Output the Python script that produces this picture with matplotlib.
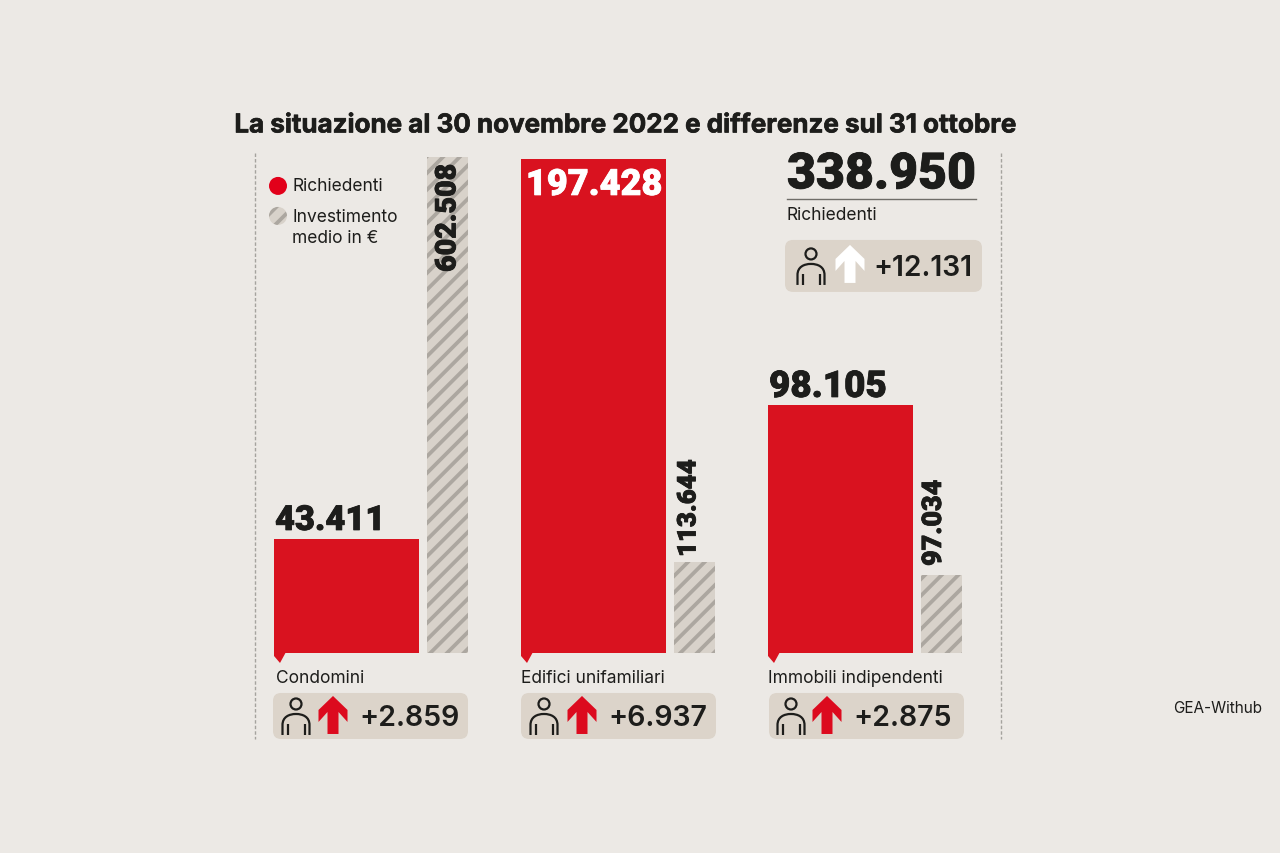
import matplotlib
matplotlib.use("Agg")
import matplotlib.pyplot as plt
import matplotlib.patheffects as pe
from matplotlib.patches import Circle, FancyBboxPatch, Polygon, PathPatch
from matplotlib.path import Path

categorie = ["Condomini", "Edifici unifamiliari", "Immobili indipendenti"]
richiedenti_label = ["43.411", "197.428", "98.105"]
investimento_label = ["602.508", "113.644", "97.034"]
variazioni = ["+2.859", "+6.937", "+2.875"]
richiedenti = [45700, 197428, 99000]
investimento = [602508, 111000, 95000]
totale = "338.950"
totale_var = "+12.131"

BG = "#ece9e5"
RED = "#d9121f"
DARK = "#1d1d1b"
PILL = "#dcd4ca"
HATCH_BG = "#d8d2ca"
HATCH_FG = "#aca7a0"
FONT = ["Inter", "DejaVu Sans"]

plt.rcParams["font.family"] = FONT
plt.rcParams["hatch.linewidth"] = 2.7

fig = plt.figure(figsize=(12.8, 8.531), dpi=100, facecolor=BG)


def px_axes(x0, y_top, x1, y_bottom):
    return fig.add_axes([x0 / 1280, 1 - y_bottom / 853, (x1 - x0) / 1280, (y_bottom - y_top) / 853])


# background layer in pixel coordinates
ax = px_axes(0, 0, 1280, 853)
ax.set_xlim(0, 1280)
ax.set_ylim(853, 0)
ax.axis("off")

# bars: one unit on x is one group, 247 px wide
bar_ax = px_axes(254, 159, 1001, 653)
bar_ax.set_xlim((254 - 346.5) / 247, (1001 - 346.5) / 247)
bar_ax.set_ylim(0, 197428)
bar_ax.axis("off")
idx = list(range(len(categorie)))
bar_ax.bar(idx, richiedenti, width=144.5 / 247, color=RED, linewidth=0)

inv_ax = bar_ax.twinx()
inv_ax.set_ylim(0, 602508 * 494 / 496)
inv_ax.axis("off")
inv_ax.bar([i + 101 / 247 for i in idx], investimento, width=41 / 247, color=HATCH_BG,
           edgecolor=HATCH_FG, hatch="//", linewidth=0, clip_on=False)

# top layer for the value labels
top_ax = px_axes(0, 0, 1280, 853)
top_ax.set_xlim(0, 1280)
top_ax.set_ylim(853, 0)
top_ax.axis("off")


def person(cx, cy, color=DARK):
    ax.add_patch(Circle((cx, cy - 12), 5.5, fc="none", ec=color, lw=1.6))
    body = Path([(cx - 13.5, cy + 19), (cx - 13.5, cy + 9), (cx - 13.5, cy + 1), (cx - 7, cy - 2), (cx, cy - 2),
                 (cx + 7, cy - 2), (cx + 13.5, cy + 1), (cx + 13.5, cy + 9), (cx + 13.5, cy + 19)],
                [Path.MOVETO, Path.LINETO, Path.CURVE4, Path.CURVE4, Path.CURVE4,
                 Path.CURVE4, Path.CURVE4, Path.CURVE4, Path.LINETO])
    ax.add_patch(PathPatch(body, fc="none", ec=color, lw=1.6))
    ax.plot([cx - 8.5, cx - 8.5], [cy + 8, cy + 19], color=color, lw=1.6, solid_capstyle="butt")
    ax.plot([cx + 8.5, cx + 8.5], [cy + 8, cy + 19], color=color, lw=1.6, solid_capstyle="butt")


def arrow(cx, cy, color):
    pts = [(cx, cy - 20), (cx + 14.5, cy - 6), (cx + 14.5, cy + 6), (cx + 5.5, cy - 4), (cx + 5.5, cy + 18),
           (cx - 5.5, cy + 18), (cx - 5.5, cy - 4), (cx - 14.5, cy + 6), (cx - 14.5, cy - 6)]
    ax.add_patch(Polygon(pts, closed=True, fc=color, ec="none"))


def pill(x0, y0, x1, y1):
    ax.add_patch(FancyBboxPatch((x0 + 8, y0 + 8), x1 - x0 - 16, y1 - y0 - 16,
                                boxstyle="round,pad=8,rounding_size=8", fc=PILL, ec="none"))


def heavy(x, y, s, size, color=DARK, rot=0, ha="left", va="center"):
    top_ax.text(x, y, s, fontsize=size, color=color, rotation=rot, ha=ha, va=va,
                family=["Roboto", "DejaVu Sans"], fontweight="black", zorder=10,
                path_effects=[pe.withStroke(linewidth=0.6, foreground=color)])


def light(x, y, s, size=12.5, **kw):
    ax.text(x, y, s, fontsize=size, color=DARK, va="center", fontweight="regular", **kw)


# title
ax.text(625, 126, "La situazione al 30 novembre 2022 e differenze sul 31 ottobre", fontsize=18.7,
        fontweight="bold", color=DARK, ha="center", va="center",
        path_effects=[pe.withStroke(linewidth=0.5, foreground=DARK)])

# dashed side lines
for x in (255, 1001):
    ax.plot([x, x], [153, 739], color="#a5a39e", lw=1, ls=(0, (2.5, 1.5)))

group_x = [274, 521, 768]
label_x = [276, 521, 768]
inv_x = [447.5, 688.5, 933.5]
pill_x = [273, 521, 769]
person_x = [296, 544, 791]
arrow_x = [333, 582, 827]
num_x = [359, 608, 853]
inv_y = [272, 557, 566]
inv_size = [20.6, 18.6, 19.4]
rich_size = [24.8, 26, 26.5]

for i, cat in enumerate(categorie):
    ax.add_patch(Polygon([(group_x[i], 652), (group_x[i] + 12, 652), (group_x[i] + 6, 663), (group_x[i], 656)],
                         closed=True, fc=RED, ec="none"))
    light(label_x[i], 678.5, cat)
    pill(pill_x[i], 693, pill_x[i] + 195, 739)
    person(person_x[i], 716)
    arrow(arrow_x[i], 716, "#dc0a1e")
    ax.text(num_x[i], 718, variazioni[i], fontsize=20.5, fontweight="semibold", color=DARK, va="center")

for i in idx:
    if i == 1:
        heavy(594, 185, richiedenti_label[i], rich_size[i], color="white", ha="center")
    else:
        heavy(group_x[i] + 1, 521 if i == 0 else 387, richiedenti_label[i], rich_size[i])
    heavy(inv_x[i], inv_y[i], investimento_label[i], inv_size[i], rot=90, ha="center", va="bottom")

# legend
ax.add_patch(Circle((278, 186), 9, fc="#e2001a", ec="none"))
ax.add_patch(Circle((278, 216), 9, fc=HATCH_BG, ec=HATCH_FG, hatch="//", lw=0))
light(292, 186.5, "Richiedenti")
light(292, 217.5, "Investimento")
light(292, 238.5, "medio in €")

# totale
heavy(787, 175, totale, 36)
ax.plot([787, 976], [199, 199], color="#6f6d68", lw=1)
light(787, 215.5, "Richiedenti")
pill(785, 240, 982, 292)
person(811, 266)
arrow(850, 265, "white")
ax.text(873, 268, totale_var, fontsize=20.3, fontweight="semibold", color=DARK, va="center")

ax.text(1262, 708, "GEA-Withub", fontsize=11, color=DARK, ha="right", va="center")

fig.savefig("out.png", dpi=100, facecolor=BG)
